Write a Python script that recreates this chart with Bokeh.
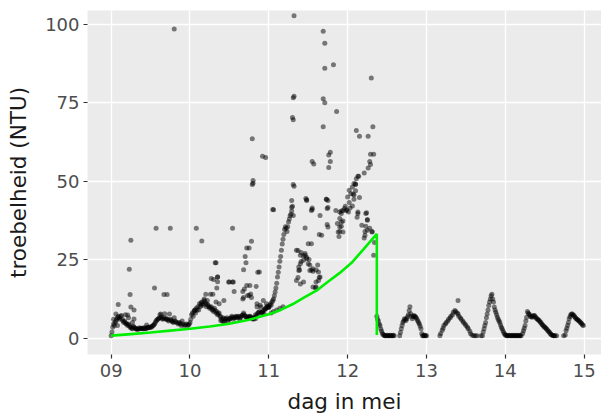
from bokeh.plotting import figure
from bokeh.models import FixedTicker, ColumnDataSource
from bokeh.embed import file_html
from bokeh.resources import INLINE

# ---- data: day in May (fractional) and turbidity (NTU) ----
# 9 - 10 May: dense band
day_a = [9.00, 9.01, 9.02, 9.03, 9.04, 9.05, 9.06, 9.07, 9.08, 9.09, 9.10, 9.11, 9.12, 9.13, 9.14,
         9.15, 9.16, 9.17, 9.18, 9.19, 9.20, 9.21, 9.22, 9.23, 9.24, 9.25, 9.27, 9.29, 9.31, 9.33,
         9.35, 9.37, 9.39, 9.41, 9.43, 9.45, 9.47, 9.49, 9.51, 9.53, 9.55, 9.57, 9.59, 9.61, 9.63,
         9.65, 9.67, 9.69, 9.71, 9.73, 9.75, 9.77, 9.79, 9.81, 9.83, 9.85, 9.87, 9.89, 9.91, 9.93,
         9.95, 9.97, 9.99,
         9.03, 9.08, 9.18, 9.22, 9.27, 9.45, 9.62, 9.68, 9.80, 9.90,
         9.26, 9.28, 9.30, 9.32, 9.34, 9.36, 9.38, 9.40, 9.42, 9.44, 9.46, 9.48, 9.50, 9.52,
         9.54, 9.56, 9.58, 9.60, 9.64, 9.66, 9.70, 9.72, 9.76, 9.78, 9.82, 9.86, 9.88, 9.94, 9.98]
ntu_a = [0.8, 2.0, 3.5, 4.5, 4.0, 5.0, 5.5, 6.0, 6.5, 7.0, 6.5, 6.0, 7.0, 7.2, 6.0,
         5.5, 5.0, 5.5, 5.0, 4.5, 4.5, 4.0, 4.5, 4.0, 3.5, 3.5, 3.0, 3.5, 3.0, 2.8,
         3.0, 3.0, 3.2, 3.0, 3.0, 3.2, 3.5, 3.5, 3.5, 4.0, 4.5, 5.5, 6.0, 6.5, 6.5,
         6.0, 6.5, 6.0, 6.0, 5.5, 6.0, 5.5, 5.0, 5.5, 5.0, 4.5, 5.0, 4.0, 4.5, 4.0,
         4.5, 4.0, 4.5,
         6.0, 4.0, 7.5, 6.5, 5.0, 4.2, 7.5, 7.8, 6.5, 5.5,
         3.2, 3.8, 3.3, 3.0, 2.9, 3.3, 3.1, 3.0, 3.4, 3.1, 3.4, 3.3, 3.6, 3.8,
         4.2, 5.0, 5.8, 6.2, 6.8, 6.2, 6.3, 5.8, 5.8, 5.2, 5.2, 4.8, 4.5, 4.3, 4.2]
# 9 - 10 May: scattered high readings
day_a2 = [9.06, 9.09, 9.23, 9.24, 9.25, 9.25, 9.29, 9.29, 9.21, 9.57, 9.75, 9.55, 9.67, 9.71,
          9.63, 9.74, 9.80]
ntu_a2 = [7.7, 10.7, 22.0, 13.9, 31.2, 9.9, 9.0, 6.1, 7.4, 35.0, 35.0, 16.0, 13.9, 13.9,
          7.7, 7.7, 98.5]

# 10 - 11 May: dense band
day_b = [10.00, 10.01, 10.02, 10.03, 10.04, 10.05, 10.06, 10.07, 10.08, 10.10, 10.11, 10.12, 10.13,
         10.15, 10.17, 10.18, 10.20, 10.21, 10.23, 10.25, 10.27, 10.28, 10.30, 10.31, 10.33, 10.35,
         10.37, 10.38, 10.40, 10.41, 10.42, 10.44, 10.45, 10.47, 10.48, 10.50, 10.52, 10.53, 10.55,
         10.57, 10.58, 10.60, 10.62, 10.63, 10.65, 10.67, 10.68, 10.70, 10.72, 10.74, 10.76, 10.78,
         10.80, 10.82, 10.84, 10.86, 10.88, 10.90, 10.92, 10.94, 10.96, 10.98, 11.00,
         10.83, 10.90, 10.92, 10.94, 10.96, 10.98, 10.81, 10.85, 10.89, 10.93, 10.97,
         10.09, 10.14, 10.16, 10.19, 10.22, 10.24, 10.26, 10.29, 10.32, 10.34, 10.36, 10.39,
         10.43, 10.46, 10.49, 10.51, 10.54, 10.56, 10.59, 10.61, 10.64, 10.66, 10.69, 10.71,
         10.73, 10.75, 10.77, 10.79, 10.81, 10.83, 10.85, 10.87, 10.91, 10.95, 10.99]
ntu_b = [5.0, 6.0, 7.5, 8.0, 7.0, 8.5, 9.0, 8.0, 9.5, 10.0, 9.0, 11.0, 10.0,
         11.5, 10.5, 12.0, 11.0, 10.0, 10.5, 9.5, 10.0, 9.0, 8.5, 9.5, 8.0, 7.5,
         8.0, 7.0, 6.0, 5.5, 6.5, 5.5, 6.0, 6.5, 5.5, 6.0, 6.5, 7.0, 6.0,
         6.5, 7.0, 6.5, 7.0, 6.0, 7.0, 7.5, 8.0, 7.0, 6.5, 6.5, 7.0, 6.5,
         6.0, 6.5, 7.0, 8.0, 8.5, 8.0, 8.5, 9.0, 9.5, 10.0, 10.0,
         6.2, 9.9, 8.3, 7.8, 9.4, 10.1, 6.5, 11.0, 10.5, 12.0, 11.0,
         9.0, 10.5, 11.0, 11.5, 10.8, 10.0, 9.8, 9.2, 8.8, 8.5, 7.8, 6.8,
         6.2, 6.2, 6.0, 6.3, 6.7, 6.5, 6.8, 6.8, 6.5, 7.2, 7.5, 6.8,
         6.8, 6.8, 6.8, 6.3, 6.3, 7.5, 7.5, 8.2, 8.2, 9.2, 9.8]
# 10 - 11 May: scattered high readings
day_b2 = [10.08, 10.54, 10.15, 10.32, 10.30, 10.35, 10.49, 10.54, 10.79, 10.78, 10.72, 10.75,
          10.70, 10.71, 10.68, 10.86, 10.72, 10.76, 10.67, 10.84, 10.92, 10.79, 10.96, 10.80,
          10.80, 10.27, 10.35, 10.35, 10.50, 10.55, 10.34, 10.56, 10.67, 10.68, 10.75, 10.78,
          10.20, 10.26, 10.29, 10.18, 10.22, 10.43, 10.33, 10.37, 10.14, 10.06, 10.39, 10.43,
          10.69, 10.73, 10.77, 10.88, 10.33, 10.85]
ntu_b2 = [35.0, 35.0, 31.0, 24.0, 18.7, 19.5, 17.9, 17.9, 49.0, 30.9, 28.7, 28.7,
          26.0, 24.0, 21.8, 21.0, 16.8, 16.8, 12.5, 16.5, 58.0, 63.5, 57.6, 49.4,
          50.2, 19.0, 19.5, 18.0, 17.9, 17.9, 16.0, 14.9, 14.9, 13.0, 13.6, 13.0,
          14.0, 14.0, 14.0, 12.5, 12.0, 12.0, 11.5, 11.0, 11.2, 8.8, 5.6, 5.1,
          15.7, 13.6, 14.1, 21.1, 24.0, 10.0]

# 11 - 12.4 May: rising ridge
day_c = [11.00, 11.01, 11.02, 11.03, 11.04, 11.05, 11.06, 11.07, 11.08, 11.09, 11.10, 11.11,
         11.12, 11.13, 11.14, 11.15, 11.16, 11.17, 11.18, 11.19, 11.20, 11.21, 11.22, 11.23,
         11.24, 11.25, 11.26, 11.27, 11.28, 11.29, 11.30, 11.31, 11.32,
         11.06, 11.10, 11.14, 11.18, 11.03]
ntu_c = [9.8, 10.5, 11.0, 10.5, 11.5, 12.0, 12.5, 13.5, 14.7, 16.0, 17.5, 19.5,
         21.0, 22.7, 24.5, 26.0, 28.0, 30.0, 31.5, 33.0, 34.6, 35.5, 35.0, 34.0,
         35.5, 37.0, 38.0, 39.0, 39.5, 40.5, 42.0, 49.0, 48.4,
         8.5, 9.0, 9.5, 10.0, 8.0]
# 11 - 12.4 May: middle cluster and scattered readings
day_c2 = [11.37, 11.41, 11.44, 11.46, 11.48, 11.51, 11.52, 11.54, 11.56, 11.60, 11.62, 11.64,
          11.60, 11.59, 11.56, 11.41, 11.39, 11.37, 11.38, 11.50, 11.54, 11.46, 11.55, 11.48,
          11.64, 11.73, 11.75, 11.74, 11.05, 11.35, 11.40, 11.44, 11.46, 11.48, 11.50, 11.52,
          11.56, 11.63, 11.65, 11.63, 11.60, 11.40, 11.38, 11.35, 11.40, 11.44,
          11.29, 11.31, 11.48, 11.54, 11.74, 11.75, 11.75, 11.67, 11.65,
          11.32, 11.69, 11.71, 11.82, 11.71, 12.30, 11.32, 11.69, 11.71, 11.86, 11.30, 11.69,
          12.11, 12.32, 12.15, 12.26, 11.78, 11.76, 12.29, 12.33, 11.55, 11.57, 11.78, 11.76,
          12.28, 12.29, 12.26, 12.21, 12.13, 11.31, 11.31, 11.06, 11.29, 11.47, 11.73, 11.55]
ntu_c2 = [27.9, 27.3, 26.2, 27.0, 25.8, 25.1, 23.3, 21.7, 21.3, 21.7, 23.3, 19.3,
          17.9, 16.1, 16.3, 24.4, 21.7, 19.3, 22.7, 30.1, 30.1, 35.1, 41.0, 44.1,
          33.0, 44.3, 41.6, 36.2, 41.0, 28.0, 26.4, 24.8, 26.4, 25.3, 23.7, 21.6,
          22.1, 21.1, 19.5, 18.4, 16.3, 23.7, 21.6, 18.4, 17.3, 17.9,
          43.9, 39.1, 43.9, 40.7, 41.3, 43.9, 35.4, 32.8, 39.1,
          102.7, 97.8, 94.0, 87.1, 86.0, 82.9, 77.1, 76.3, 75.0, 72.2, 70.3, 67.4,
          66.2, 67.4, 64.3, 64.3, 59.2, 58.4, 58.6, 58.6, 56.3, 55.5, 56.3, 54.4,
          56.3, 55.3, 54.2, 52.6, 51.6, 69.6, 76.6, 40.9, 41.7, 44.5, 44.3, 41.5]
# 11.85 - 12.37 May: right cluster
day_c3 = [11.92, 11.96, 11.99, 12.01, 11.94, 11.92, 11.90, 11.89, 12.06, 12.08, 12.07, 12.10,
          12.11, 12.14, 12.02, 12.13, 12.24, 12.25, 12.23, 12.22, 12.21, 12.31, 11.85, 11.90,
          11.94, 11.98, 11.92, 11.90, 11.92, 11.90, 11.94, 11.88, 12.00, 12.02, 12.04, 12.06,
          12.08, 12.13, 12.23, 12.25, 12.25, 12.22, 12.31, 12.33, 12.10, 12.10, 12.08, 12.15,
          11.87, 11.97, 12.03, 12.12, 12.18, 12.28, 12.34]
ntu_c3 = [40.5, 41.3, 40.8, 40.2, 37.3, 35.7, 34.0, 32.4, 42.1, 44.3, 45.9, 49.1,
          50.8, 51.6, 43.2, 40.2, 40.0, 37.8, 35.7, 34.0, 31.9, 34.0, 40.7, 40.2,
          40.7, 40.7, 39.7, 38.1, 37.0, 35.4, 33.8, 33.8, 45.0, 47.1, 46.0, 48.2,
          49.3, 39.7, 39.7, 37.6, 34.4, 32.8, 33.8, 26.4, 49.0, 47.0, 45.6, 44.8,
          36.5, 42.0, 41.5, 38.5, 36.0, 35.0, 30.5]

# 12.37 - 15 May: daily cycles after the drop
day_d = [12.37, 12.38, 12.39, 12.40, 12.41, 12.42, 12.43, 12.44, 12.45, 12.47, 12.49, 12.51,
         12.53, 12.55, 12.57, 12.59, 12.66, 12.67, 12.68, 12.69, 12.70, 12.71, 12.72, 12.73,
         12.74, 12.75, 12.76, 12.77, 12.78, 12.79, 12.80, 12.81, 12.82, 12.83, 12.84, 12.85,
         12.86, 12.87, 12.88, 12.89, 12.90, 12.91, 12.92, 12.93, 12.94, 12.95, 12.97, 12.99,
         13.17, 13.18, 13.20, 13.21, 13.22, 13.24, 13.25, 13.27, 13.28, 13.30, 13.31, 13.33,
         13.34, 13.36, 13.37, 13.39, 13.40, 13.41, 13.43, 13.44, 13.46, 13.47, 13.49, 13.50,
         13.52, 13.53, 13.55, 13.56, 13.58, 13.60, 13.62, 13.64, 13.40,
         12.46, 12.48, 12.50, 12.52, 12.54, 12.56, 12.58, 12.96, 12.98, 13.00]
ntu_d = [7.0, 6.0, 5.5, 4.5, 4.0, 3.0, 2.3, 1.6, 1.2, 0.8, 0.8, 0.8,
         0.8, 0.8, 0.8, 0.8, 0.8, 1.8, 3.0, 4.0, 5.0, 5.5, 6.2, 6.0,
         5.6, 6.2, 6.8, 7.5, 8.8, 10.0, 7.8, 7.0, 6.2, 6.8, 7.2, 7.0,
         6.8, 6.5, 6.0, 5.5, 5.0, 4.5, 3.8, 3.0, 1.5, 0.8, 0.8, 0.8,
         0.8, 1.5, 2.5, 3.2, 4.0, 4.5, 5.0, 5.5, 6.0, 6.5, 7.0, 7.5,
         8.3, 8.8, 8.5, 8.0, 7.7, 7.0, 6.5, 6.0, 5.5, 5.0, 4.5, 4.0,
         3.5, 3.0, 2.2, 1.4, 0.9, 0.8, 0.8, 0.8, 12.0,
         0.9, 0.8, 0.9, 0.8, 0.9, 0.8, 0.9, 0.8, 0.9, 0.8]
day_e = [13.69, 13.71, 13.72, 13.73, 13.74, 13.75, 13.76, 13.77, 13.78, 13.79, 13.80, 13.81,
         13.82, 13.83, 13.84, 13.85, 13.86, 13.87, 13.88, 13.89, 13.90, 13.91, 13.92, 13.93,
         13.94, 13.95, 13.96, 13.97, 13.98, 13.99, 14.00, 14.02, 14.04, 14.06, 14.08, 14.10,
         14.12, 14.14, 14.16, 14.18, 14.20, 14.22, 14.23, 14.24, 14.25, 14.26, 14.27, 14.28,
         14.29, 14.30, 14.31, 14.32, 14.33, 14.34, 14.35, 14.36, 14.37, 14.38, 14.39, 14.40,
         14.41, 14.42, 14.43, 14.44, 14.45, 14.46, 14.47, 14.48, 14.49, 14.50, 14.51, 14.52,
         14.53, 14.54, 14.55, 14.56, 14.57, 14.58, 14.59, 14.61, 14.63, 14.65, 14.74, 14.76,
         14.77, 14.78, 14.79, 14.80, 14.81, 14.82, 14.83, 14.84, 14.85, 14.86, 14.87, 14.88,
         14.89, 14.90, 14.91, 14.92, 14.93, 14.94, 14.95, 14.96, 14.97, 14.98, 14.99,
         14.01, 14.03, 14.05, 14.07, 14.09, 14.11, 14.13, 14.15, 14.17, 14.19, 14.60, 14.62]
ntu_e = [0.8, 0.8, 2.0, 3.0, 4.0, 5.0, 6.5, 7.7, 9.0, 10.4, 11.5, 12.5,
         13.5, 14.0, 12.5, 11.5, 9.9, 9.0, 8.3, 7.5, 6.7, 6.0, 5.5, 5.0,
         4.2, 3.5, 3.0, 2.4, 1.8, 1.3, 1.0, 0.8, 0.8, 0.8, 0.8, 0.8,
         0.8, 0.8, 0.8, 0.8, 0.8, 1.5, 2.4, 3.2, 4.0, 5.5, 6.7, 8.5,
         8.0, 7.7, 7.5, 7.0, 6.8, 6.7, 7.0, 7.2, 7.2, 6.8, 6.5, 6.2,
         6.0, 5.8, 5.6, 5.2, 5.0, 4.6, 4.3, 4.0, 3.7, 3.5, 3.3, 3.0,
         2.8, 2.4, 2.1, 1.9, 1.5, 1.2, 1.0, 0.8, 0.8, 0.8, 0.8, 1.0,
         2.4, 3.2, 4.0, 5.0, 6.2, 6.8, 7.5, 7.7, 7.7, 7.4, 7.2, 6.8,
         6.5, 6.2, 6.0, 5.8, 5.6, 5.4, 5.1, 4.8, 4.6, 4.2, 4.0,
         0.9, 0.8, 0.9, 0.8, 0.9, 0.8, 0.9, 0.8, 0.9, 0.8, 0.9, 0.8]

# fitted (green) curve
green_day = [9.00, 9.25, 9.50, 9.75, 10.00, 10.25, 10.50, 10.75, 11.00, 11.15, 11.30, 11.45,
             11.62, 11.75, 11.90, 12.05, 12.20, 12.37, 12.37]
green_ntu = [0.8, 1.3, 1.8, 2.4, 3.0, 3.7, 4.6, 5.9, 7.6, 9.0, 10.8, 13.0,
             15.4, 18.0, 20.8, 24.0, 28.3, 33.2, 1.0]

x_ticks = [9, 10, 11, 12, 13, 14, 15]
x_tick_labels = ["09", "10", "11", "12", "13", "14", "15"]
y_ticks = [0, 25, 50, 75, 100]

all_day = day_a + day_a2 + day_b + day_b2 + day_c + day_c2 + day_c3 + day_d + day_e
all_ntu = ntu_a + ntu_a2 + ntu_b + ntu_b2 + ntu_c + ntu_c2 + ntu_c3 + ntu_d + ntu_e

FONT = "DejaVu Sans"

p = figure(width=601, height=416, x_range=(8.7, 15.22), y_range=(-5.2, 104.4),
           output_backend="svg", toolbar_location=None,
           min_border_left=87, min_border_right=0, min_border_top=10, min_border_bottom=62)
p.background_fill_color = "#EBEBEB"
p.border_fill_color = "white"
p.outline_line_color = None

p.xgrid.grid_line_color = "white"
p.ygrid.grid_line_color = "white"
p.xgrid.grid_line_width = 1.3
p.ygrid.grid_line_width = 1.3
p.xgrid.ticker = FixedTicker(ticks=x_ticks)
p.ygrid.ticker = FixedTicker(ticks=y_ticks)

p.xaxis.ticker = FixedTicker(ticks=x_ticks)
p.xaxis.major_label_overrides = {t: l for t, l in zip(x_ticks, x_tick_labels)}
p.yaxis.ticker = FixedTicker(ticks=y_ticks)

for ax in (p.xaxis[0], p.yaxis[0]):
    ax.axis_line_color = None
    ax.major_tick_line_color = "#333333"
    ax.major_tick_line_width = 1.2
    ax.major_tick_out = 4
    ax.major_tick_in = 0
    ax.minor_tick_line_color = None
    ax.major_label_text_font = FONT
    ax.major_label_text_font_size = "18px"
    ax.major_label_text_color = "#4D4D4D"
    ax.axis_label_text_font = FONT
    ax.axis_label_text_font_size = "21.5px"
    ax.axis_label_text_font_style = "normal"
    ax.axis_label_text_color = "#1A1A1A"

p.xaxis.axis_label = "dag in mei"
p.yaxis.axis_label = "troebelheid (NTU)"
p.xaxis.major_label_standoff = 5
p.yaxis.major_label_standoff = 4
p.xaxis.axis_label_standoff = 9
p.yaxis.axis_label_standoff = 11

src = ColumnDataSource(data=dict(day=all_day, ntu=all_ntu))
p.scatter("day", "ntu", source=src, size=5, color="black", alpha=0.5, line_color=None)
p.line(green_day, green_ntu, color="#00EE00", line_width=2.6)

open("out.html", "w").write(file_html(p, INLINE))
